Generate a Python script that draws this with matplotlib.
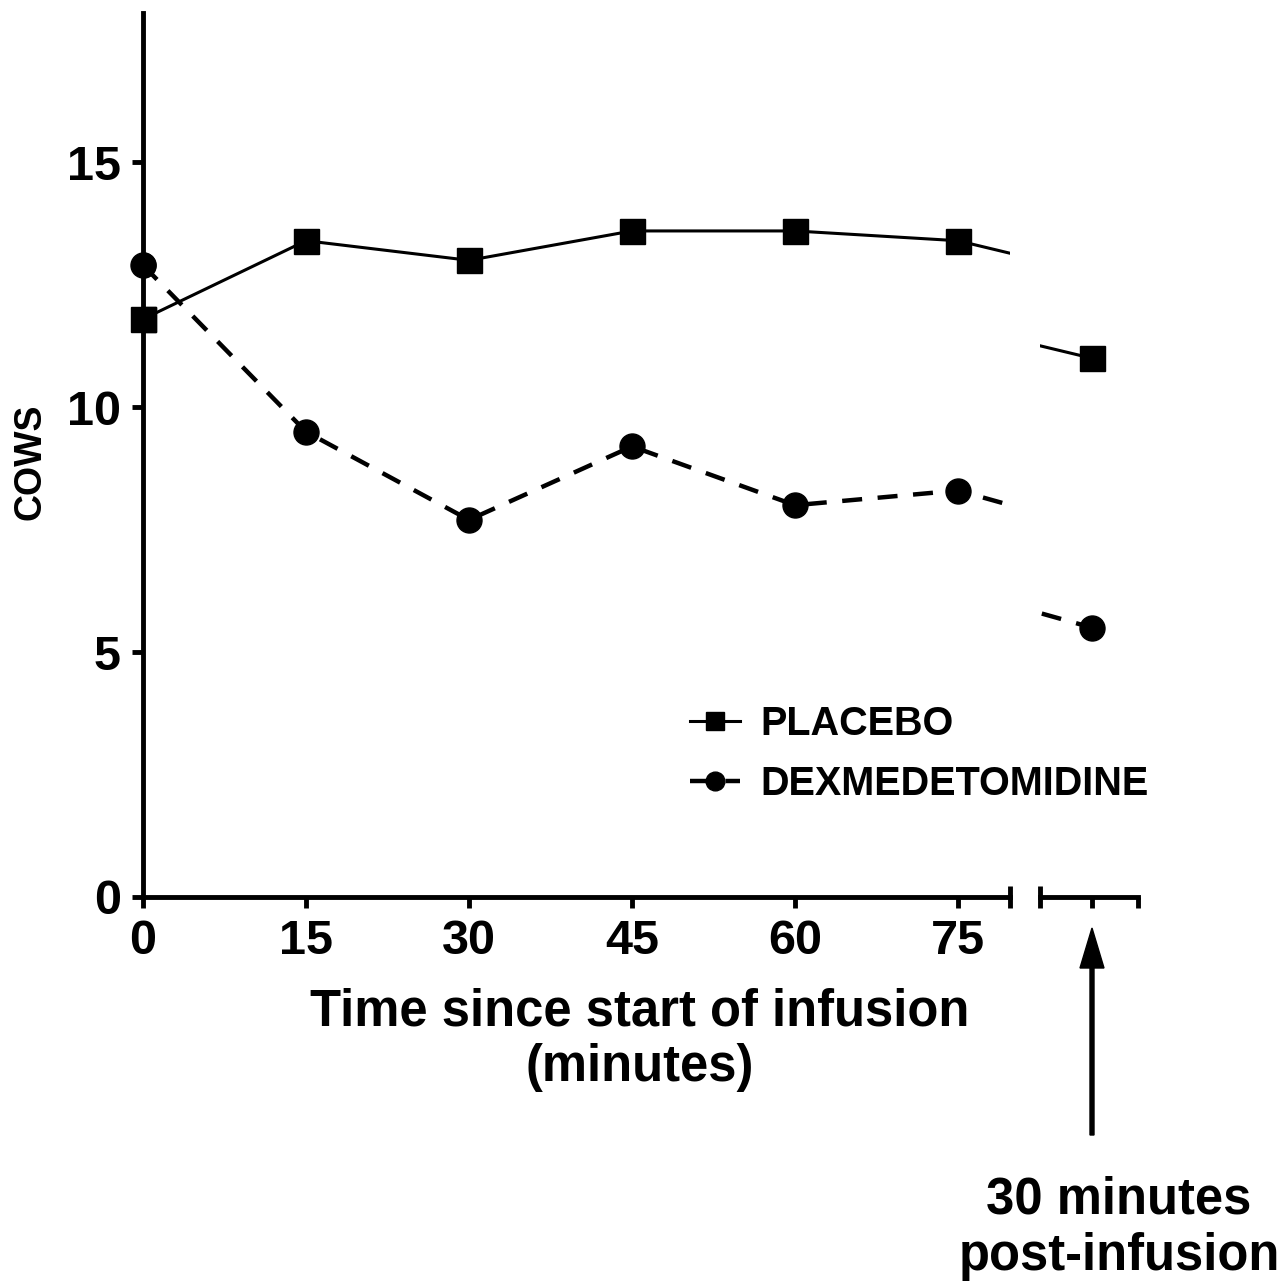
import matplotlib.pyplot as plt
from matplotlib.patches import FancyArrow

plt.rcParams['font.family'] = ['Liberation Sans', 'DejaVu Sans']
plt.rcParams['font.weight'] = 'bold'

times = [0, 15, 30, 45, 60, 75]
post_time = 120  # 30 minutes after end of 90 min infusion
placebo = [11.8, 13.4, 13.0, 13.6, 13.6, 13.4]
placebo_post = 11.0
dexmed = [12.9, 9.5, 7.7, 9.2, 8.0, 8.3]
dexmed_post = 5.5
yticks = [0, 5, 10, 15]

fig = plt.figure(figsize=(12.88, 12.87), dpi=100)
ax1 = fig.add_axes([143/1288, 1-897/1287, (1010-143)/1288, (897-13)/1287])
ax2 = fig.add_axes([1040/1288, 1-897/1287, (1138-1040)/1288, (897-13)/1287])

lw_axis = 3.5
px_per_min = (958 - 143) / 75.0
ax1.set_xlim(0, (1010 - 143) / px_per_min)
ax2.set_xlim(post_time - (1092 - 1040) / px_per_min, post_time + (1138 - 1092) / px_per_min)

xs = times + [post_time]
handles = []
for ax in (ax1, ax2):
    l1, = ax.plot(xs, placebo + [placebo_post], color='black', lw=2.2, marker='s', ms=18,
                  zorder=3)
    l2, = ax.plot(xs, dexmed + [dexmed_post], color='black', lw=3.2, dashes=(4.5, 3.5),
                  marker='o', ms=18, zorder=3)
    if not handles:
        handles = [l1, l2]
    ax.set_ylim(0, 18.05)
    ax.set_facecolor('none')
    for s in ('top', 'right'):
        ax.spines[s].set_visible(False)
    ax.spines['bottom'].set_linewidth(lw_axis)
    ax.tick_params(width=lw_axis, length=8, labelsize=35, pad=8)

# markers sitting on the y axis should not be clipped
ax1.plot(times[:1], placebo[:1], 's', color='black', ms=18, clip_on=False, zorder=4)
ax1.plot(times[:1], dexmed[:1], 'o', color='black', ms=18, clip_on=False, zorder=4)

ax1.spines['left'].set_linewidth(lw_axis)
ax1.set_yticks(yticks)
ax1.set_xticks(times)
for lab in ax1.get_xticklabels() + ax1.get_yticklabels():
    lab.set_fontweight('bold')

ax2.spines['left'].set_visible(False)
ax2.set_yticks([])
ax2.set_xticks([post_time, ax2.get_xlim()[1]])
ax2.set_xticklabels(['', ''])

# break marks
ax1.plot([1, 1], [-0.013, 0.013], transform=ax1.transAxes, color='black',
         lw=lw_axis, clip_on=False, solid_capstyle='butt')
ax2.plot([0, 0], [-0.013, 0.013], transform=ax2.transAxes, color='black',
         lw=lw_axis, clip_on=False, solid_capstyle='butt')

fig.legend(handles, ['PLACEBO', 'DEXMEDETOMIDINE'], loc='upper left',
           bbox_to_anchor=(690/1288, 1-705/1287), bbox_transform=fig.transFigure,
           frameon=False, borderpad=0, borderaxespad=0, handlelength=1.27,
           handletextpad=0.5, labelspacing=0.55, markerscale=0.75,
           prop={'size': 28.5, 'weight': 'bold'})

fig.text(640/1288, 1-1012/1287, 'Time since start of infusion', ha='center', va='center',
         fontsize=36.5, fontweight='bold')
fig.text(640/1288, 1-1067/1287, '(minutes)', ha='center', va='center',
         fontsize=36.5, fontweight='bold')
fig.text(30/1288, 1-462/1287, 'COWS', rotation=90, ha='center', va='center',
         fontsize=27, fontweight='bold')

fig.patches.append(FancyArrow(
    1092/1288, 1-1135/1287, 0, (1135-928)/1287, width=4/1288, head_width=24/1288,
    head_length=40/1287, length_includes_head=True, color='black',
    transform=fig.transFigure, figure=fig))
fig.text(1119/1288, 1-1228/1287, '30 minutes\npost-infusion', ha='center', va='center',
         fontsize=36.5, fontweight='bold', linespacing=1.2)

fig.savefig('out.png', dpi=100, facecolor='white')
